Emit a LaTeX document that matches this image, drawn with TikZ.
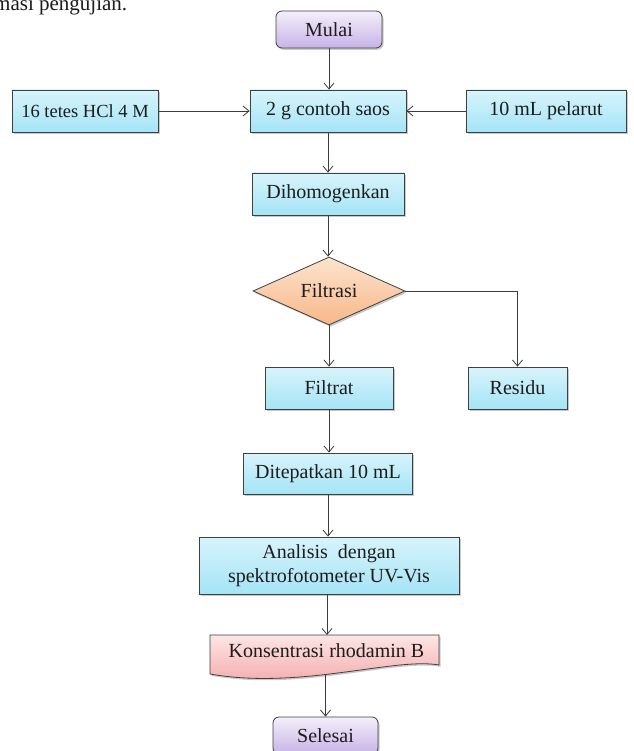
\documentclass[tikz,border=0pt]{standalone}
\usepackage{fontspec}
\setmainfont{Liberation Serif}
\usetikzlibrary{arrows.meta,shapes.geometric,shadows}
\definecolor{edge}{HTML}{404040}
\definecolor{lin}{HTML}{3C3C3C}
\definecolor{txt}{HTML}{1C1C1C}
\definecolor{cyT}{HTML}{D8F4FC}
\definecolor{cyB}{HTML}{A4E4F6}
\definecolor{lvT}{HTML}{F4EFFB}
\definecolor{lvB}{HTML}{C7B3E6}
\definecolor{orT}{HTML}{FDE4CE}
\definecolor{orB}{HTML}{F7B789}
\definecolor{pkT}{HTML}{FDE6E5}
\definecolor{pkB}{HTML}{F3A3A3}
\begin{document}
\begin{tikzpicture}[x=1pt,y=-1pt,
  font=\fontsize{20}{24}\selectfont, text=txt,
  shad/.style={drop shadow={shadow xshift=1.5pt,shadow yshift=-1.8pt,opacity=0.35,fill=black!60}},
  cyanbox/.style={rectangle, draw=edge, line width=0.8pt, top color=cyT, bottom color=cyB, minimum height=42pt, inner sep=0pt, shad},
  term/.style={rectangle, rounded corners=6pt, draw=edge, line width=0.8pt, top color=lvT, bottom color=lvB, minimum height=37pt, inner sep=0pt, shad},
  decis/.style={diamond, aspect=2.2, draw=edge, line width=0.8pt, top color=orT, bottom color=orB, minimum width=152pt, minimum height=68pt, inner sep=0pt, shad},
  arr/.style={draw=lin, line width=0.8pt, -{Straight Barb[length=6pt,width=10pt]}}
]
\path[use as bounding box, clip] (0,0) rectangle (633,751);
\fill[white] (0,0) rectangle (633,751);

\node[anchor=base west, inner sep=0pt, font=\fontsize{21}{24}\selectfont] (cap) at (-6,11) {masi pengujian.};

\node[term, minimum width=106pt] (mulai) at (329,29.5) {Mulai};
\node[cyanbox, minimum width=146pt, font=\fontsize{18.5}{22}\selectfont] (hcl) at (85,111) {16 tetes HCl 4 M};
\node[cyanbox, minimum width=156pt] (saos) at (328,111) {2 g contoh saos};
\node[cyanbox, minimum width=160pt] (pel) at (546,111) {10 mL pelarut};
\node[cyanbox, minimum width=152pt] (homo) at (328,194) {Dihomogenkan};
\node[decis] (filt) at (329,291) {Filtrasi};
\node[cyanbox, minimum width=128pt] (filtrat) at (329,388) {Filtrat};
\node[cyanbox, minimum width=99pt] (res) at (517.5,388) {Residu};
\node[cyanbox, minimum width=169pt, minimum height=41pt] (tepat) at (328,473.5) {Ditepatkan 10 mL};
\node[cyanbox, minimum width=260pt, minimum height=57pt, align=center] (ana) at (329,565.5) {Analisis\ \ dengan\\spektrofotometer UV-Vis};

\path[draw=edge, line width=0.8pt, top color=pkT, bottom color=pkB, shad]
  (210,635) -- (439,635) -- (439,665) .. controls (395,657) and (300,690) .. (210,674) -- cycle;
\node[inner sep=0pt] (konz) at (326.5,651) {Konsentrasi rhodamin B};
\coordinate (konzt) at (327,635);
\coordinate (konzb) at (325.5,674.5);

\node[term, minimum width=105pt] (sel) at (325.5,735.5) {Selesai};

\draw[arr] (mulai.south) -- (mulai.south |- saos.north);
\draw[arr] (hcl) -- (saos);
\draw[arr] (pel) -- (saos);
\draw[arr] (saos.south) -- (saos.south |- homo.north);
\draw[arr] (homo.south) -- (homo.south |- filt.north);
\draw[arr] (filt.south) -- (filt.south |- filtrat.north);
\draw[arr] (filt.east) -| (res.north);
\draw[arr] (filtrat.south) -- (filtrat.south |- tepat.north);
\draw[arr] (tepat.south) -- (tepat.south |- ana.north);
\draw[arr] (ana.south -| konzt) -- (konzt);
\draw[arr] (konzb) -- (konzb |- sel.north);
\end{tikzpicture}
\end{document}
